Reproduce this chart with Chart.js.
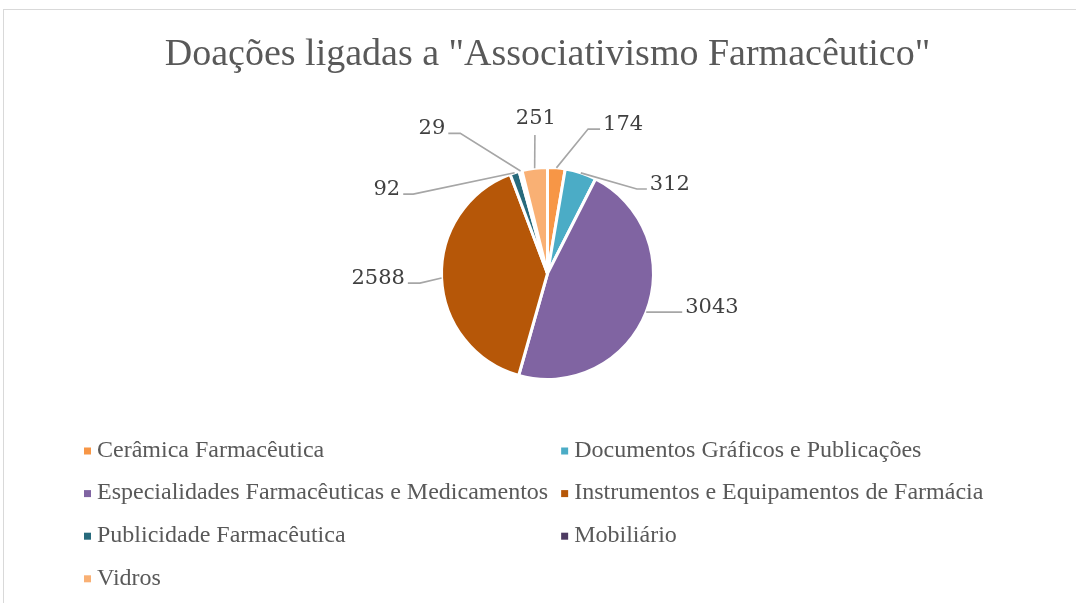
<!DOCTYPE html>
<html>
<head>
<meta charset="utf-8">
<script src="https://cdn.jsdelivr.net/npm/chart.js@4/dist/chart.umd.min.js"></script>
<style>
html, body { margin: 0; padding: 0; background: #fff; }
#wrap { position: relative; width: 1076px; height: 603px; overflow: hidden; }
#frame { position: absolute; left: 3px; top: 9px; width: 1200px; height: 700px;
         border-left: 1px solid #d9d9d9; border-top: 1px solid #d9d9d9; }
canvas { position: absolute; left: 0; top: 0; }
</style>
</head>
<body>
<div id="wrap">
    <div id="frame"></div>
    <canvas id="chart" width="1076" height="603"></canvas>
</div>
<script>
// Data
const categories = [
    'Cerâmica Farmacêutica',
    'Documentos Gráficos e Publicações',
    'Especialidades Farmacêuticas e Medicamentos',
    'Instrumentos e Equipamentos de Farmácia',
    'Publicidade Farmacêutica',
    'Mobiliário',
    'Vidros'
];
const donations = [174, 312, 3043, 2588, 92, 29, 251];
const chartTitle = 'Doações ligadas a "Associativismo Farmacêutico"';

// Styles
const sliceColors = ['#F79646', '#4BACC6', '#8064A2', '#B65708', '#276A7C', '#4D3B62', '#F9B074'];

// Where each data label's leader line bends (bearing from top in degrees, distance from centre)
// tail: horizontal run after the bend (+ right, - left, 0 = label above)
const labelLayout = [
    { angle: 15.7, dist: 150, tail: 12 },
    { angle: 46.6, dist: 123, tail: 10 },
    { angle: null, dist: 0, tail: 36 },
    { angle: 265.7, dist: 128, tail: -12 },
    { angle: 300.6, dist: 156, tail: -10 },
    { angle: 328.1, dist: 165, tail: -12 },
    { angle: 354.8, dist: 139, tail: 0 }
];

// Data labels with leader lines
const pieLabels = {
    id: 'pieLabels',
    afterDatasetsDraw(chart) {
        const ctx = chart.ctx;
        const meta = chart.getDatasetMeta(0);
        ctx.save();
        ctx.strokeStyle = '#a6a6a6';
        ctx.lineWidth = 1.6;
        ctx.fillStyle = '#404040';
        ctx.font = '21px "DejaVu Serif"';
        meta.data.forEach((arc, i) => {
            const p = arc.getProps(['x', 'y', 'startAngle', 'endAngle', 'outerRadius'], true);
            const mid = (p.startAngle + p.endAngle) / 2;
            const r0 = p.outerRadius;
            const sx = p.x + Math.cos(mid) * r0;
            const sy = p.y + Math.sin(mid) * r0;
            const L = labelLayout[i];
            let ex = sx, ey = sy;
            if (L.angle !== null) {
                const b = (L.angle - 90) * Math.PI / 180;
                ex = p.x + Math.cos(b) * L.dist;
                ey = p.y + Math.sin(b) * L.dist;
            }
            const tx = ex + L.tail;
            ctx.beginPath();
            ctx.moveTo(sx, sy);
            ctx.lineTo(ex, ey);
            ctx.lineTo(tx, ey);
            ctx.stroke();
            const text = String(chart.data.datasets[0].data[i]);
            ctx.textBaseline = 'alphabetic';
            if (L.tail > 0) {
                ctx.textAlign = 'left';
                ctx.fillText(text, tx + 3, ey + 1);
            } else if (L.tail < 0) {
                ctx.textAlign = 'right';
                ctx.fillText(text, tx - 3, ey + 1);
            } else {
                ctx.textAlign = 'center';
                ctx.fillText(text, tx + 1, ey - 11);
            }
        });
        ctx.restore();
    }
};

// Two-column legend below the pie
const columnLegend = {
    id: 'columnLegend',
    afterDraw(chart) {
        const ctx = chart.ctx;
        const labels = chart.data.labels;
        const colors = chart.data.datasets[0].backgroundColor;
        ctx.save();
        ctx.font = '24px "Liberation Serif"';
        ctx.textBaseline = 'middle';
        ctx.textAlign = 'left';
        const left = 84;
        const textGap = 13;
        const rowY = 450.5;
        const rowStep = 42.6;
        let col1Width = 0;
        labels.forEach((l, i) => {
            if (i % 2 === 0) col1Width = Math.max(col1Width, ctx.measureText(l).width);
        });
        const col2 = left + textGap + col1Width + 13;
        labels.forEach((l, i) => {
            const x = i % 2 === 0 ? left : col2;
            const y = rowY + Math.floor(i / 2) * rowStep;
            ctx.fillStyle = colors[i];
            ctx.fillRect(x, y - 3, 7, 7);
            ctx.fillStyle = '#595959';
            ctx.fillText(l, x + textGap, y);
        });
        ctx.restore();
    }
};

const ctx = document.getElementById('chart').getContext('2d');
const chart = new Chart(ctx, {
    type: 'pie',
    data: {
        labels: categories,
        datasets: [{
            data: donations,
            backgroundColor: sliceColors,
            borderColor: '#ffffff',
            borderWidth: 3
        }]
    },
    options: {
        responsive: false,
        animation: false,
        events: [],
        radius: 106,
        layout: {
            padding: { top: 0, bottom: 219.5, left: 119, right: 100 }
        },
        plugins: {
            legend: { display: false },
            tooltip: { enabled: false },
            title: {
                display: true,
                text: chartTitle,
                color: '#595959',
                font: { family: 'Liberation Serif', size: 38, weight: 'normal' },
                padding: { top: 32, bottom: 85.9 }
            }
        }
    },
    plugins: [pieLabels, columnLegend]
});
</script>
</body>
</html>
